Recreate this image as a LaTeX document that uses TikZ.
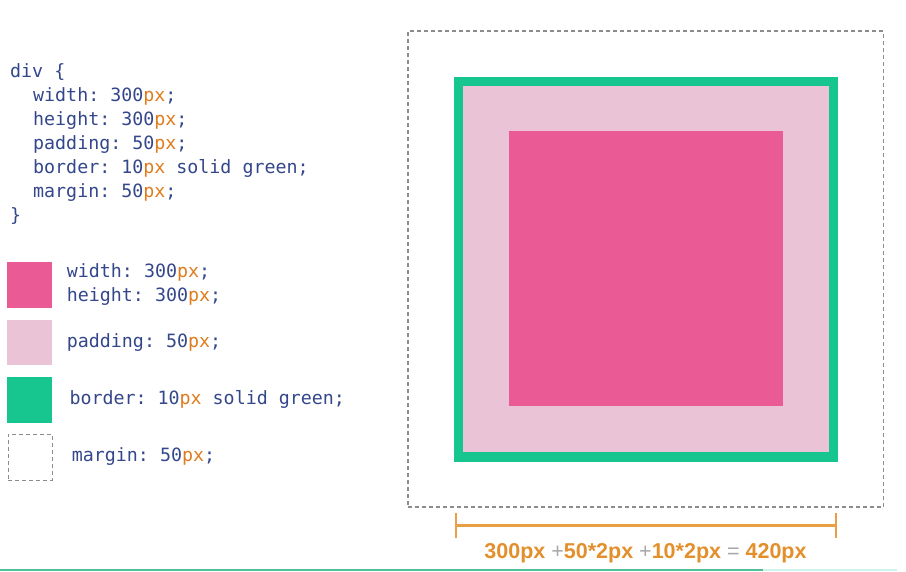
\documentclass[tikz,border=0pt]{standalone}
\usepackage{fontspec}
\setmonofont{DejaVu Sans Mono}
\newfontfamily\sumfont{Liberation Sans}
\usetikzlibrary{
  arrows.meta,
  positioning
}
\definecolor{codeblue}{HTML}{34478A}
\definecolor{pxorange}{HTML}{E07B1C}
\definecolor{contentpink}{HTML}{EA5B95}
\definecolor{paddingpink}{HTML}{EAC3D6}
\definecolor{bordergreen}{HTML}{17C58E}
\definecolor{margingray}{HTML}{8C8C8C}
\definecolor{dimorange}{HTML}{E9A043}
\definecolor{sumorange}{HTML}{E38F2C}
\definecolor{signgray}{HTML}{A8A8A8}
\definecolor{barteal}{HTML}{52BF98}
\definecolor{barlight}{HTML}{CFF2EA}
\newcommand{\pxu}{\textcolor{pxorange}{px}}
\newcommand{\sgn}[1]{{\mdseries\color{signgray}#1}}
\tikzset{
  code/.style={
    anchor=base west,
    inner sep=0pt,
    font=\ttfamily\fontsize{18.3}{22}\selectfont,
    text=codeblue
  },
  swatch/.style={
    anchor=north west,
    inner sep=0pt,
    minimum width=45.5pt,
    minimum height=45.5pt
  },
  swcontent/.style={swatch, fill=contentpink},
  swpadding/.style={swatch, fill=paddingpink},
  swborder/.style={swatch, fill=bordergreen},
  marginline/.style={draw=margingray, line width=1.6pt, dash pattern=on 4pt off 3pt},
  swmargin/.style={swatch, marginline, minimum width=44pt, minimum height=46pt},
  layer/.style={inner sep=0pt, outer sep=0pt},
  dimline/.style={{Bar[width=25pt]}-{Bar[width=25pt]}, line width=2.4pt, draw=dimorange},
  sum/.style={anchor=base, inner sep=0pt, font=\sumfont\bfseries\fontsize{21.5}{24}\selectfont, text=sumorange}
}

\begin{document}
\begin{tikzpicture}[x=1pt, y=-1pt]
  \useasboundingbox (0,0) rectangle (906,571);

  % css source
  \node[code] (open) at (10,77.5) {div \{};
  \node[code] (cwidth) at (33,101.5) {width: 300\pxu;};
  \node[code] (cheight) at (33,125.5) {height: 300\pxu;};
  \node[code] (cpadding) at (33,149.5) {padding: 50\pxu;};
  \node[code] (cborder) at (33,173.5) {border: 10\pxu{} solid green;};
  \node[code] (cmargin) at (33,197.5) {margin: 50\pxu;};
  \node[code] (close) at (10,221) {\}};

  % legend
  \node[swcontent] (kcontent) at (6.5,262) {};
  \node[code] (lwidth) at (66.7,277.3) {width: 300\pxu;};
  \node[code] (lheight) at (66.7,301.7) {height: 300\pxu;};
  \node[swpadding] (kpadding) at (6.5,319.5) {};
  \node[code] (lpadding) at (66.7,347.3) {padding: 50\pxu;};
  \node[swborder] (kborder) at (6.5,377) {};
  \node[code] (lborder) at (69.3,404) {border: 10\pxu{} solid green;};
  \node[swmargin] (kmargin) at (7.5,433.5) {};
  \node[code] (lmargin) at (71.7,461.7) {margin: 50\pxu;};

  % box model
  \node[layer, marginline, minimum width=475.5pt, minimum height=476pt] (marginbox) at (645.8,269) {};
  \node[layer, fill=bordergreen, minimum width=384.5pt, minimum height=385pt] (borderbox) at (646,269.2) {};
  \node[layer, fill=paddingpink, minimum width=366.2pt, minimum height=366.4pt] (paddingbox) at (646,269.2) {};
  \node[layer, fill=contentpink, minimum width=274.2pt, minimum height=274.7pt] (contentbox) at (645.6,268.4) {};

  % total width
  \coordinate (dimL) at (455,525.5);
  \coordinate (dimR) at (837,525.5);
  \draw[dimline] (dimL) -- (dimR);
  \node[sum] (total) at (645.5,558.3)
    {300px \sgn{+}50*2px \sgn{+}10*2px \sgn{=} 420px};

  \draw[barteal, line width=2pt] (0,570) -- (763,570);
  \draw[barlight, line width=2pt] (763,570) -- (897,570);
\end{tikzpicture}
\end{document}
